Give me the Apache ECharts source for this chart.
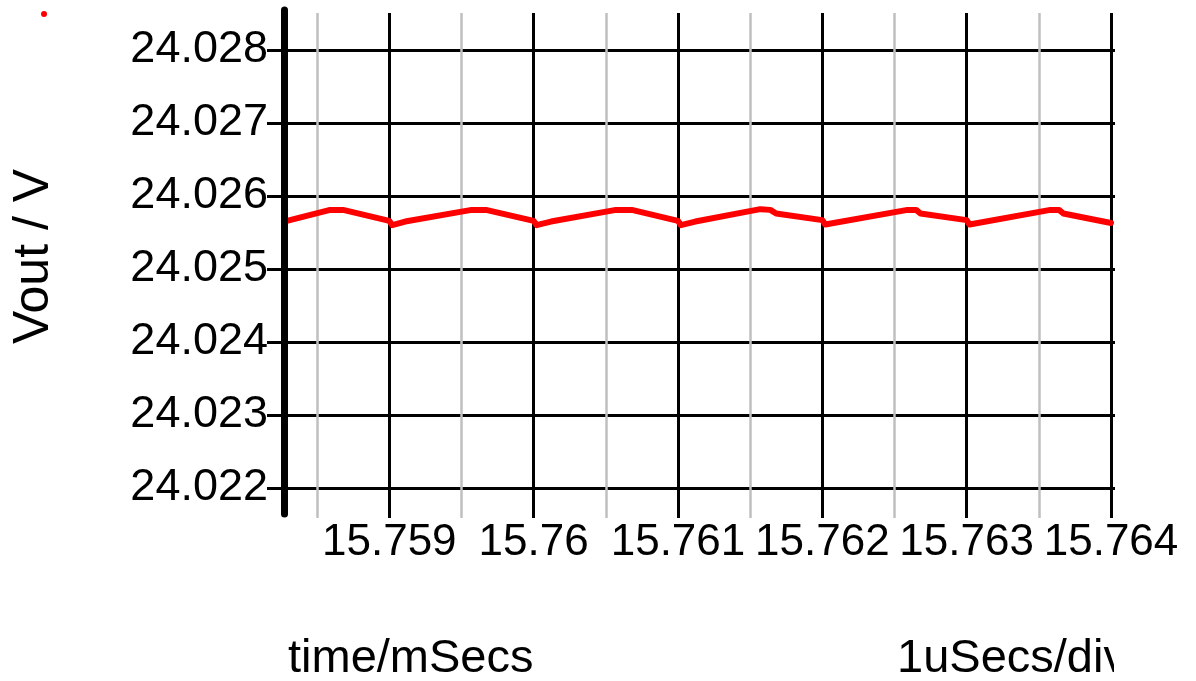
<!DOCTYPE html>
<html>
<head>
<meta charset="utf-8">
<script src="https://cdn.jsdelivr.net/npm/echarts@6/dist/echarts.min.js"></script>
<style>
html,body{margin:0;padding:0;background:#fff;}
#c{width:1196px;height:681px;}
</style>
</head>
<body>
<div id="c"></div>
<script>
// time in mSecs
const times = [15.75827, 15.75859, 15.75868, 15.75900, 15.75902, 15.75911,
  15.75957, 15.75967, 15.76000, 15.76002, 15.76012,
  15.76057, 15.76068, 15.76100, 15.76102, 15.76112,
  15.76157, 15.76164, 15.76168, 15.76200, 15.76202,
  15.76259, 15.76265, 15.76268, 15.76300, 15.76302,
  15.76358, 15.76364, 15.76367, 15.76400];
// Vout in V
const vout = [24.02565, 24.02581, 24.02581, 24.02566, 24.02560, 24.02565,
  24.02581, 24.02581, 24.02566, 24.02560, 24.02565,
  24.02581, 24.02581, 24.02566, 24.02560, 24.02565,
  24.02582, 24.02581, 24.02576, 24.02567, 24.02561,
  24.02581, 24.02581, 24.02576, 24.02567, 24.02561,
  24.02581, 24.02581, 24.02576, 24.02563];
const yTickMin = 24.022, yTickMax = 24.028, yTickStep = 0.001;
const xTickMin = 15.758, xTickMax = 15.764, xTickStep = 0.001;
const yViewMin = 24.021589, yViewMax = 24.028507;
const yAxisName = 'Vout / V';
const xAxisName = 'time/mSecs';
const xDivName = '1uSecs/div';

const FONT = 'Liberation Sans, Arial, sans-serif';
const chart = echarts.init(document.getElementById('c'), null, {renderer: 'canvas'});
const data = times.map((t, i) => [t, vout[i]]);

chart.setOption({
  backgroundColor: '#ffffff',
  animation: false,
  grid: [
    {left: 284, right: 81, top: 50, bottom: 193},
    {left: 244.96, right: 85, top: 13, bottom: 163},
    {left: 284, right: 85, top: 10, bottom: 167}
  ],
  xAxis: [
    {gridIndex: 0, type: 'value', min: 0, max: 1, show: false},
    {gridIndex: 1, type: 'value', min: xTickMin, max: xTickMax, interval: xTickStep,
      axisLine: {show: false}, axisTick: {show: false},
      axisLabel: {show: true, showMinLabel: false, margin: 3, fontSize: 44, color: '#000', fontFamily: FONT,
        formatter: v => String(+v.toFixed(3))},
      splitLine: {show: true, showMinLine: false, lineStyle: {color: '#000', width: 3}},
      minorTick: {show: false, splitNumber: 2},
      minorSplitLine: {show: true, lineStyle: {color: '#c0c0c0', width: 2.5}}
    },
    {gridIndex: 2, type: 'value', min: 0, max: 1, show: false}
  ],
  yAxis: [
    {gridIndex: 0, type: 'value', min: yTickMin, max: yTickMax, interval: yTickStep,
      axisLine: {show: false},
      axisTick: {show: true, length: 17, lineStyle: {color: '#000', width: 3}},
      axisLabel: {margin: 16, fontSize: 45, color: '#000', fontFamily: FONT,
        formatter: v => v.toFixed(3)},
      splitLine: {show: true, lineStyle: {color: '#000', width: 3}}
    },
    {gridIndex: 1, type: 'value', min: yViewMin, max: yViewMax, show: false},
    {gridIndex: 2, type: 'value', min: 0, max: 1, z: 10,
      axisLine: {show: true, lineStyle: {color: '#000', width: 7, cap: 'round'}},
      axisTick: {show: false}, axisLabel: {show: false}, splitLine: {show: false}
    }
  ],
  series: [{
    type: 'line', xAxisIndex: 1, yAxisIndex: 1, data: data,
    showSymbol: false, symbol: 'none', z: 5,
    lineStyle: {color: '#ff0000', width: 6, cap: 'round', join: 'round'}
  }],
  graphic: [
    {type: 'circle', shape: {cx: 44, cy: 14, r: 3}, style: {fill: '#ff0000'}},
    {type: 'text', x: 34.5, y: 256.5, rotation: Math.PI / 2,
      style: {text: yAxisName, font: '50px ' + FONT, fill: '#000', align: 'center', verticalAlign: 'middle'}},
    {type: 'text', x: 288, y: 636,
      style: {text: xAxisName, font: '47px ' + FONT, fill: '#000', align: 'left', verticalAlign: 'top'}},
    {type: 'text', x: 897, y: 636,
      style: {text: xDivName, font: '47px ' + FONT, fill: '#000', align: 'left', verticalAlign: 'top'}},
    {type: 'rect', z: 100, shape: {x: 1114, y: 610, width: 82, height: 71}, style: {fill: '#ffffff'}}
  ]
});
</script>
</body>
</html>
